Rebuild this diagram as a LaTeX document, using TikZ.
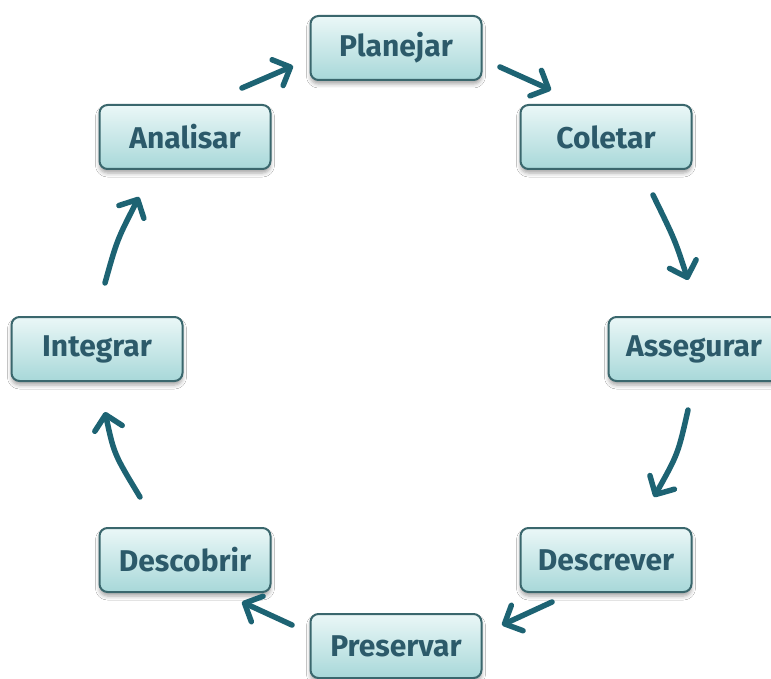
\documentclass[tikz,border=0pt]{standalone}
\usepackage{fontspec}
\setmainfont{Fira Sans}
\usetikzlibrary{arrows.meta,shadows.blur}
\definecolor{boxtop}{HTML}{EAF7F7}
\definecolor{boxbot}{HTML}{A8D8D9}
\definecolor{boxrim}{HTML}{3A676D}
\definecolor{labeltxt}{HTML}{2C5A6A}
\definecolor{arrowcol}{HTML}{1D6373}
\tikzset{
  stage/.style={draw=boxrim, line width=2pt, rounded corners=8pt,
    top color=boxtop, bottom color=boxbot,
    minimum width=171pt, minimum height=64pt, inner sep=0pt,
    text=labeltxt, font=\fontsize{30}{35}\selectfont\bfseries,
    blur shadow={shadow xshift=0pt, shadow yshift=-4pt,
      shadow blur radius=4pt, shadow opacity=35}},
  flow/.style={draw=arrowcol, line width=5.5pt, line cap=round,
    -{Straight Barb[length=14pt, width=28pt, line cap=round, line join=round]}}
}
\begin{document}
\begin{tikzpicture}[x=1pt, y=-1pt]
\useasboundingbox (0,0) rectangle (771,679);
\fill[white] (0,0) rectangle (771,679);

% the eight stages of the cycle
\node[stage] (plan) at (396,48)  {\raisebox{-1pt}{Planejar}};
\node[stage] (cole) at (606,137) {\raisebox{-1pt}{Coletar}};
\node[stage] (asse) at (694,349) {\raisebox{-1pt}{Assegurar}};
\node[stage] (desc) at (606,560) {\raisebox{-1pt}{Descrever}};
\node[stage] (pres) at (396,646) {\raisebox{-1pt}{Preservar}};
\node[stage] (dsco) at (185,560) {\raisebox{-1pt}{Descobrir}};
\node[stage] (inte) at (97,349)  {\raisebox{-1pt}{Integrar}};
\node[stage] (anal) at (185,137) {\raisebox{-1pt}{Analisar}};

% arrow end points between neighbouring stages
\coordinate (a1s) at (242,88);  \coordinate (a1e) at (293,66);
\coordinate (a2s) at (500,67);  \coordinate (a2e) at (551,90);
\coordinate (a3s) at (653,195); \coordinate (a3c) at (675,240); \coordinate (a3e) at (688,280);
\coordinate (a4s) at (688,410); \coordinate (a4c) at (678,454); \coordinate (a4e) at (654,497);
\coordinate (a5s) at (552,602); \coordinate (a5e) at (502,625);
\coordinate (a6s) at (292,625); \coordinate (a6e) at (242,602);
\coordinate (a7s) at (140,497); \coordinate (a7c) at (114,454); \coordinate (a7e) at (105,412);
\coordinate (a8s) at (105,283); \coordinate (a8c) at (117,240); \coordinate (a8e) at (139,197);

\draw[flow] (a1s) -- (a1e);
\draw[flow] (a2s) -- (a2e);
\draw[flow] (a3s) .. controls (a3c) .. (a3e);
\draw[flow] (a4s) .. controls (a4c) .. (a4e);
\draw[flow] (a5s) -- (a5e);
\draw[flow] (a6s) -- (a6e);
\draw[flow] (a7s) .. controls (a7c) .. (a7e);
\draw[flow] (a8s) .. controls (a8c) .. (a8e);
\end{tikzpicture}
\end{document}
